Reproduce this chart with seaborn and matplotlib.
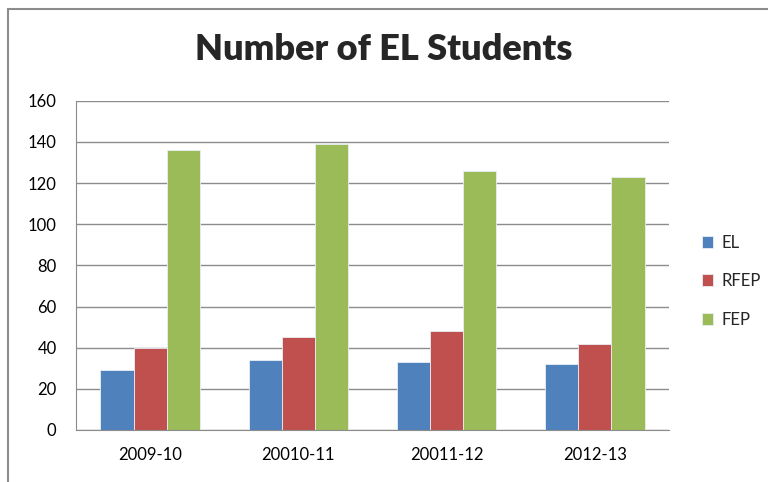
import numpy as np
import pandas as pd
import matplotlib.pyplot as plt
import seaborn as sns
from matplotlib.patches import Rectangle

# data
years = ["2009-10", "20010-11", "20011-12", "2012-13"]
el = [29, 34, 33, 32]
rfep = [40, 45, 48, 42]
fep = [136, 139, 126, 123]
groups = ["EL", "RFEP", "FEP"]
colors = ["#4F81BD", "#C0504D", "#9BBB59"]

data = pd.DataFrame({"Year": years * 3,
                     "Group": [g for g in groups for _ in years],
                     "Count": el + rfep + fep})

sns.set_style("white")
plt.rcParams['font.family'] = ['Lato', 'DejaVu Sans']

fig = plt.figure(figsize=(7.68, 4.82), dpi=100)
ax = fig.add_axes([76/768, 1-430/482, (669-76)/768, (430-100.7)/482])

sns.barplot(data=data, x="Year", y="Count", hue="Group", palette=colors,
            saturation=1, width=0.67, ax=ax, edgecolor="#e8eef5", linewidth=0.6)

ax.set_ylim(0, 160)
ax.set_yticks(range(0, 161, 20))
ax.yaxis.grid(True, color="#8c8c8c", linewidth=1)
ax.set_axisbelow(True)
ax.set_xlabel("")
ax.set_ylabel("")
for s in ["top", "right"]:
    ax.spines[s].set_visible(False)
ax.spines["left"].set_color("#8c8c8c")
ax.spines["bottom"].set_color("#8c8c8c")
ax.tick_params(axis="both", length=0, labelsize=12, colors="black")
ax.tick_params(axis="y", pad=14)
ax.tick_params(axis="x", pad=12)

ax.legend(loc="center left", bbox_to_anchor=(1.03, 0.452), frameon=False,
          fontsize=12, labelspacing=1.35, handlelength=0.7, handleheight=0.7,
          handletextpad=0.5)

fig.text(0.5, 1-50/482, "Number of EL Students", ha="center", va="center",
         fontsize=26, fontweight="heavy")

# outer chart border
fig.patches.append(Rectangle((8/768, -0.05), 1.0, 1-9/482+0.05,
                             transform=fig.transFigure, fill=False,
                             edgecolor="#8c8c8c", linewidth=1.5))

fig.savefig("out.png", dpi=100)
